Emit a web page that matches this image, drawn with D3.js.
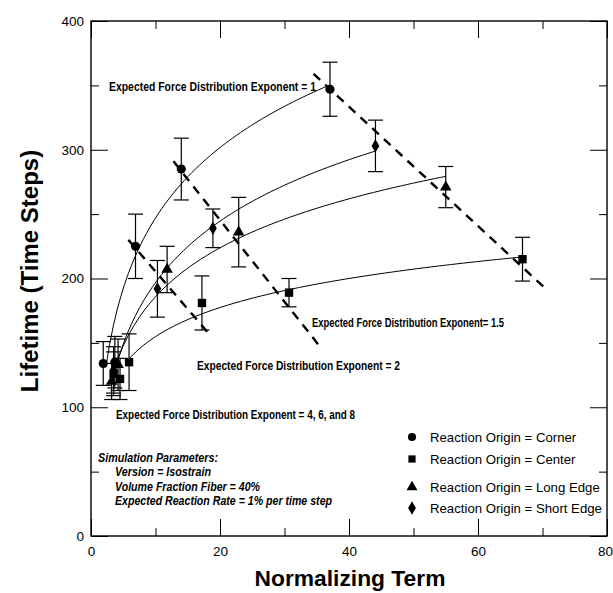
<!DOCTYPE html>
<html>
<head>
<meta charset="utf-8">
<script src="https://cdn.jsdelivr.net/npm/d3@7"></script>
<style>
  body { margin: 0; background: #fff; }
  text { font-family: "Liberation Sans", Arial, sans-serif; }
</style>
</head>
<body>
<svg id="chart" width="613" height="593"></svg>
<script>
// values: [normalizing term, lifetime, error half-width]
const cornerPts = [[1.9, 134, 17], [3.7, 135, 20], [6.9, 225, 25], [14.0, 285, 24], [37.05, 347, 21]];
const centerPts = [[3.5, 126, 17], [4.5, 122, 16], [5.9, 135, 22], [17.2, 181, 21], [30.7, 189, 11], [66.9, 215, 17]];
const longEdgePts = [[3.2, 120, 14], [4.2, 133, 20], [11.8, 207, 18], [22.9, 236, 27], [55.0, 271, 16]];
const shortEdgePts = [[3.5, 129, 18], [10.3, 192, 22], [18.9, 239, 15], [44.1, 303, 20]];

const seriesNames = ["Corner", "Center", "Long Edge", "Short Edge"];
// where each fitted curve begins (it ends at the last point of the series)
const curveStart = [2.3, 5.9, 3.2, 3.5];

// dashed iso-exponent lines, [[x0, y0], [x1, y1]]
const exponentLines = [
  [[34.5, 359], [70.5, 192]],
  [[12.8, 291], [35.2, 149]],
  [[5.8, 230], [18.3, 157]]
];
const exponentLabels = [
  "Expected Force Distribution Exponent = 1",
  "Expected Force Distribution Exponent= 1.5",
  "Expected Force Distribution Exponent = 2",
  "Expected Force Distribution Exponent = 4, 6, and 8"
];
const simParams = [
  "Simulation Parameters:",
  "Version = Isostrain",
  "Volume Fraction Fiber = 40%",
  "Expected Reaction Rate = 1% per time step"
];

const xTickLabels = [0, 20, 40, 60, 80];
const yTickLabels = [0, 100, 200, 300, 400];

const svg = d3.select("#chart");

const x = d3.scaleLinear().domain([0, 80]).range([91, 607]);
const y = d3.scaleLinear().domain([0, 400]).range([536, 21]);

// ticks on all four sides, pointing in
function ticks(axis, transform, values, size, labels) {
  const g = svg.append("g")
    .attr("transform", transform)
    .call(axis.tickValues(values).tickSize(-size).tickPadding(labels ? 6 : 0)
      .tickFormat(labels ? d3.format("d") : ""));
  g.select(".domain").remove();
  g.selectAll("line").attr("stroke", "#000").attr("stroke-width", 1);
  g.selectAll("text").attr("font-size", 13.5).attr("fill", "#000")
    .style("font-family", '"Liberation Sans", Arial, sans-serif');
  return g;
}
const xMinor = d3.range(10, 80, 20);
const yMinor = d3.range(50, 400, 100);
ticks(d3.axisBottom(x), "translate(0,536)", xTickLabels, 17, true)
  .selectAll("text").attr("dy", "1.05em")
  .attr("x", d => d === 80 ? -2 : 0);
ticks(d3.axisBottom(x), "translate(0,536)", xMinor, 8, false);
ticks(d3.axisTop(x), "translate(0,21)", xTickLabels, 17, false);
ticks(d3.axisTop(x), "translate(0,21)", xMinor, 8, false);
ticks(d3.axisLeft(y), "translate(91,0)", yTickLabels, 17, true)
  .selectAll("text").attr("x", -7);
ticks(d3.axisLeft(y), "translate(91,0)", yMinor, 8, false);
ticks(d3.axisRight(y), "translate(607,0)", yTickLabels, 17, false);
ticks(d3.axisRight(y), "translate(607,0)", yMinor, 8, false);

svg.append("rect")
  .attr("x", x(0)).attr("y", y(400))
  .attr("width", x(80) - x(0)).attr("height", y(0) - y(400))
  .attr("fill", "none").attr("stroke", "#000").attr("stroke-width", 1.4);

// least-squares fit y = a + b ln(x) for each series
function logFit(pts) {
  const lx = pts.map(p => Math.log(p[0]));
  const mx = d3.mean(lx), my = d3.mean(pts, p => p[1]);
  let sxy = 0, sxx = 0;
  pts.forEach((p, i) => { sxy += (lx[i] - mx) * (p[1] - my); sxx += (lx[i] - mx) ** 2; });
  const b = sxy / sxx;
  return { a: my - b * mx, b: b };
}

const allSeries = [cornerPts, centerPts, longEdgePts, shortEdgePts];
const line = d3.line().x(d => x(d[0])).y(d => y(d[1]));

allSeries.forEach((pts, i) => {
  const fit = logFit(pts);
  const x1 = d3.max(pts, p => p[0]);
  const xs = d3.range(0, 61).map(k => curveStart[i] + (x1 - curveStart[i]) * k / 60);
  svg.append("path")
    .attr("d", line(xs.map(v => [v, fit.a + fit.b * Math.log(v)])))
    .attr("fill", "none").attr("stroke", "#000").attr("stroke-width", 1);
});

// dashed lines
svg.selectAll(".expLine")
  .data(exponentLines)
  .join("path")
  .attr("class", "expLine")
  .attr("d", line)
  .attr("fill", "none").attr("stroke", "#000")
  .attr("stroke-width", 2.4).attr("stroke-dasharray", "9,7");

// error bars
allSeries.forEach(pts => {
  const g = svg.append("g").attr("stroke", "#000").attr("stroke-width", 1.2);
  pts.forEach(p => {
    const cx = x(p[0]), top = y(p[1] + p[2]), bot = y(p[1] - p[2]);
    g.append("line").attr("x1", cx).attr("x2", cx).attr("y1", top).attr("y2", bot);
    g.append("line").attr("x1", cx - 7.5).attr("x2", cx + 7.5).attr("y1", top).attr("y2", top);
    g.append("line").attr("x1", cx - 7.5).attr("x2", cx + 7.5).attr("y1", bot).attr("y2", bot);
  });
});

// markers
const symbols = [
  d3.symbol().type(d3.symbolCircle).size(66),
  d3.symbol().type(d3.symbolSquare).size(70),
  d3.symbol().type(d3.symbolTriangle).size(58),
  d3.symbol().type(d3.symbolDiamond).size(52)
];
allSeries.forEach((pts, i) => {
  svg.append("g").selectAll("path")
    .data(pts)
    .join("path")
    .attr("d", symbols[i])
    .attr("transform", p => `translate(${x(p[0])},${y(p[1])})`)
    .attr("fill", "#000");
});

// annotations (condensed bold, squeezed to the widths seen in the figure)
const labelPos = [[109, 91], [312, 327], [197, 370], [116, 419]];
const labelWidth = [207, 192, 203, 239];
exponentLabels.forEach((t, i) => {
  svg.append("text")
    .attr("x", labelPos[i][0]).attr("y", labelPos[i][1])
    .attr("font-size", 12).attr("font-weight", "bold")
    .attr("textLength", labelWidth[i]).attr("lengthAdjust", "spacingAndGlyphs")
    .text(t);
});

const simWidth = [120, 96, 145, 217];
simParams.forEach((t, i) => {
  svg.append("text")
    .attr("x", i === 0 ? 98 : 115).attr("y", 462 + i * 14.4)
    .attr("font-size", 12.5).attr("font-weight", "bold").attr("font-style", "italic")
    .attr("textLength", simWidth[i]).attr("lengthAdjust", "spacingAndGlyphs")
    .text(t);
});

// legend
const legend = svg.append("g").attr("transform", "translate(412,437)");
const legendRows = [0, 22, 50, 71];
seriesNames.forEach((name, i) => {
  legend.append("path")
    .attr("d", d3.symbol().type([d3.symbolCircle, d3.symbolSquare, d3.symbolTriangle, d3.symbolDiamond][i]).size(52)())
    .attr("transform", `translate(0,${legendRows[i]})`)
    .attr("fill", "#000");
  legend.append("text")
    .attr("x", 18).attr("y", legendRows[i] + 4.7)
    .attr("font-size", 13.2)
    .text("Reaction Origin = " + name);
});

// axis titles
svg.append("text")
  .attr("x", 350).attr("y", 586)
  .attr("text-anchor", "middle")
  .attr("font-size", 22.8).attr("font-weight", "bold")
  .text("Normalizing Term");

svg.append("text")
  .attr("transform", "translate(38,271) rotate(-90)")
  .attr("text-anchor", "middle")
  .attr("font-size", 24).attr("font-weight", "bold")
  .text("Lifetime (Time Steps)");
</script>
</body>
</html>
